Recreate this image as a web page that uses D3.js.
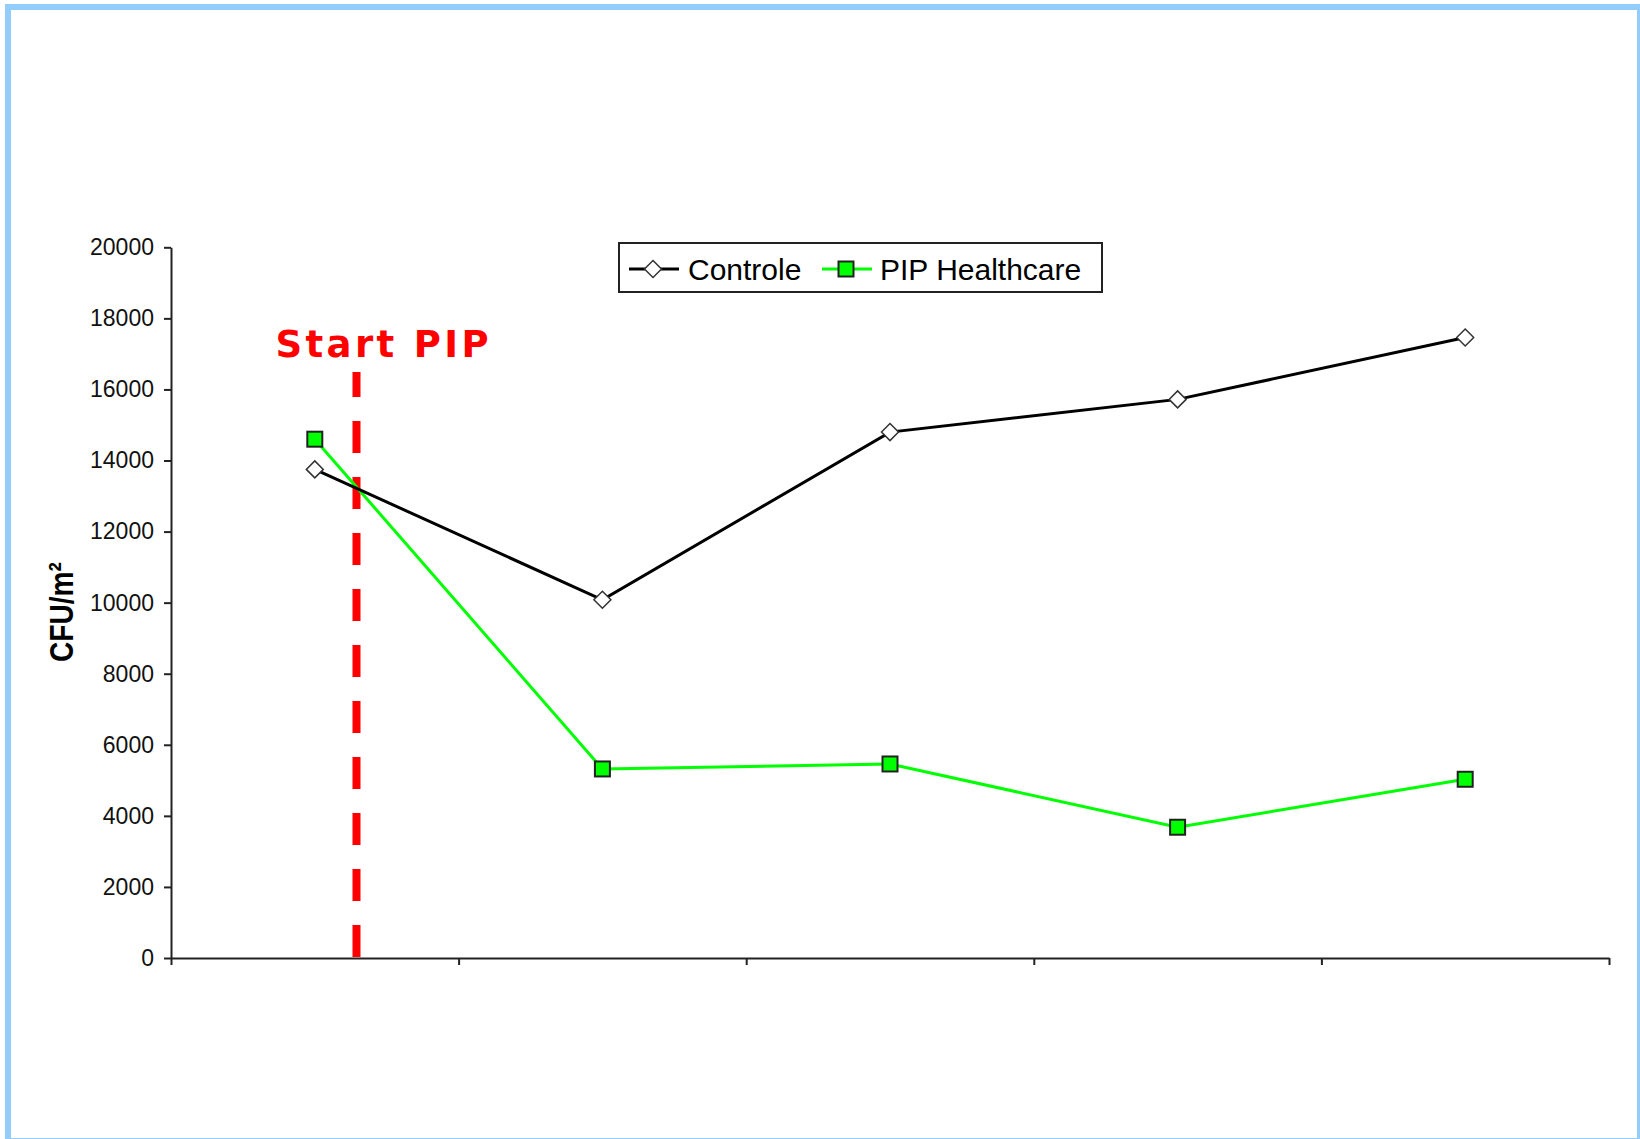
<!DOCTYPE html>
<html>
<head>
<meta charset="utf-8">
<script src="https://cdn.jsdelivr.net/npm/d3@7/dist/d3.min.js"></script>
<style>
  html, body { margin: 0; padding: 0; background: #fff; }
  svg { display: block; }
</style>
</head>
<body>
<svg id="chart" width="1640" height="1139"></svg>
<script>
// ---- data ----
const periods = ["P1", "P2", "P3", "P4", "P5"];
const controleValues = [13750, 10080, 14800, 15720, 17460];
const pipValues = [14600, 5320, 5460, 3680, 5030];
const seriesNames = ["Controle", "PIP Healthcare"];
const yTicks = [0, 2000, 4000, 6000, 8000, 10000, 12000, 14000, 16000, 18000, 20000];
const yLabel = "CFU/m²";
const startLabel = "Start PIP";
const startPosition = [0.645];     // in period units from the axis start
const startTop = [16490];          // top of dashed marker, in CFU/m²

// ---- layout ----
const plot = { left: 171, right: 1609, top: 247.3, bottom: 958 };

const svg = d3.select("#chart");

// frame
svg.append("rect")
  .attr("x", 8).attr("y", 7)
  .attr("width", 1632).attr("height", 1134)
  .attr("fill", "none")
  .attr("stroke", "#93CDFB")
  .attr("stroke-width", 6);

const x = d3.scaleLinear().domain([0, periods.length]).range([plot.left, plot.right]);
const y = d3.scaleLinear().domain([0, 20000]).range([plot.bottom, plot.top]);
const xc = i => x(i + 0.5);

// y axis
const yAxis = d3.axisLeft(y).tickValues(yTicks).tickSizeInner(7).tickSizeOuter(0).tickPadding(10)
  .tickFormat(d3.format("d"));
const gy = svg.append("g").attr("transform", `translate(${plot.left},0)`).call(yAxis);
gy.select(".domain").attr("stroke", "#222").attr("stroke-width", 2);
gy.selectAll(".tick line").attr("stroke", "#222").attr("stroke-width", 2);
gy.selectAll(".tick text")
  .attr("font-family", "'Liberation Sans', Arial, sans-serif")
  .attr("font-size", "23px")
  .attr("fill", "#111");

// x axis
const xAxis = d3.axisBottom(x).tickValues(d3.range(periods.length + 1)).tickSizeInner(7).tickSizeOuter(0)
  .tickFormat("");
const gx = svg.append("g").attr("transform", `translate(0,${plot.bottom})`).call(xAxis);
gx.select(".domain").attr("stroke", "#222").attr("stroke-width", 2);
gx.selectAll(".tick line").attr("stroke", "#222").attr("stroke-width", 2);

// y label
svg.append("text")
  .attr("transform", `translate(73,612) rotate(-90)`)
  .attr("text-anchor", "middle")
  .attr("font-family", "'Liberation Sans', Arial, sans-serif")
  .attr("font-weight", "bold")
  .attr("font-size", "34px")
  .attr("fill", "#000")
  .attr("textLength", 100)
  .attr("lengthAdjust", "spacingAndGlyphs")
  .text(yLabel);

// start marker
const sx = x(startPosition[0]);
svg.append("line")
  .attr("x1", sx).attr("x2", sx)
  .attr("y1", y(0) - 1).attr("y2", y(startTop[0]))
  .attr("stroke", "#FF0000")
  .attr("stroke-width", 8)
  .attr("stroke-dasharray", "32,24");

svg.append("text")
  .attr("x", sx - 81).attr("y", 357)
  .attr("font-family", "'DejaVu Sans', Verdana, sans-serif")
  .attr("font-weight", "bold")
  .attr("font-size", "37px")
  .attr("fill", "#FF0000")
  .attr("textLength", 213)
  .attr("lengthAdjust", "spacing")
  .text(startLabel);

// lines
const line = d3.line().x((d, i) => xc(i)).y(d => y(d));

svg.append("path").datum(pipValues)
  .attr("d", line).attr("fill", "none")
  .attr("stroke", "#00FF00").attr("stroke-width", 3);

svg.append("path").datum(controleValues)
  .attr("d", line).attr("fill", "none")
  .attr("stroke", "#000").attr("stroke-width", 3);

// markers
const diamond = (cx, cy, r) => `M${cx},${cy - r}L${cx + r},${cy}L${cx},${cy + r}L${cx - r},${cy}Z`;

svg.append("g").selectAll("path").data(controleValues).join("path")
  .attr("d", (d, i) => diamond(xc(i), y(d), 8.5))
  .attr("fill", "#fff").attr("stroke", "#333").attr("stroke-width", 1.5);

svg.append("g").selectAll("rect").data(pipValues).join("rect")
  .attr("x", (d, i) => xc(i) - 7.5).attr("y", d => y(d) - 7.5)
  .attr("width", 15).attr("height", 15)
  .attr("fill", "#00FF00").attr("stroke", "#222").attr("stroke-width", 2);

// legend
const lg = svg.append("g");
lg.append("rect")
  .attr("x", 619).attr("y", 243).attr("width", 483).attr("height", 49)
  .attr("fill", "#fff").attr("stroke", "#222").attr("stroke-width", 2);
const ly = 269;
lg.append("line").attr("x1", 629).attr("x2", 679).attr("y1", ly).attr("y2", ly)
  .attr("stroke", "#000").attr("stroke-width", 3);
lg.append("path").attr("d", diamond(653, ly, 8.5))
  .attr("fill", "#fff").attr("stroke", "#333").attr("stroke-width", 1.5);
lg.append("text").attr("x", 688).attr("y", 280)
  .attr("font-family", "'Liberation Sans', Arial, sans-serif").attr("font-size", "30px")
  .attr("fill", "#000").text(seriesNames[0]);
lg.append("line").attr("x1", 822).attr("x2", 872).attr("y1", ly).attr("y2", ly)
  .attr("stroke", "#00FF00").attr("stroke-width", 3);
lg.append("rect").attr("x", 846 - 7.5).attr("y", ly - 7.5).attr("width", 15).attr("height", 15)
  .attr("fill", "#00FF00").attr("stroke", "#222").attr("stroke-width", 2);
lg.append("text").attr("x", 880).attr("y", 280)
  .attr("font-family", "'Liberation Sans', Arial, sans-serif").attr("font-size", "30px")
  .attr("fill", "#000").text(seriesNames[1]);
</script>
</body>
</html>
